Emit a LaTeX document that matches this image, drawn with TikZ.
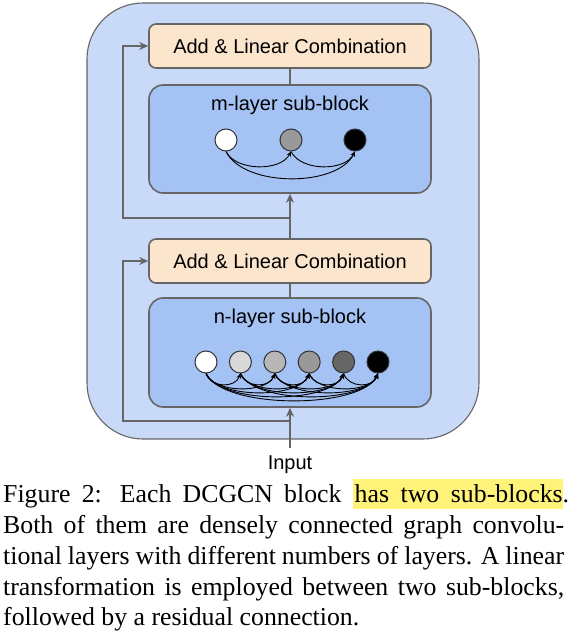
\documentclass[tikz,border=0pt]{standalone}
\usepackage{fontspec}
\setmainfont{Liberation Serif}
\newfontfamily\diagfont{Liberation Sans}
\usetikzlibrary{arrows.meta,calc}
\definecolor{outerblue}{HTML}{C9DAF8}
\definecolor{innerblue}{HTML}{A4C2F4}
\definecolor{addorange}{HTML}{FCE5CD}
\definecolor{edgegrey}{HTML}{666666}
\definecolor{hlyellow}{RGB}{255,243,122}
\definecolor{g1}{HTML}{D9D9D9}
\definecolor{g2}{HTML}{B7B7B7}
\definecolor{g3}{HTML}{999999}
\definecolor{g4}{HTML}{666666}
\newcommand\hlpart[1]{{\setlength{\fboxsep}{0pt}\colorbox{hlyellow}{\rule[-0.27em]{0pt}{1.16em}\hspace{2pt}\makebox[208pt][s]{#1}}}}
\begin{document}
\begin{tikzpicture}[x=1pt,y=-1pt,
  outerbox/.style={draw=edgegrey,line width=1.1pt,fill=outerblue,rounded corners=56pt},
  addbox/.style={draw=edgegrey,line width=1.6pt,fill=addorange,rounded corners=7pt,
    minimum width=282pt,minimum height=44pt,inner sep=0pt,font=\diagfont\fontsize{20}{24}\selectfont},
  subbox/.style={draw=edgegrey,line width=1.6pt,fill=innerblue,rounded corners=14pt,
    minimum width=282pt,inner sep=0pt},
  titletext/.style={font=\diagfont\fontsize{20}{24}\selectfont,inner sep=0pt},
  dotnode/.style={circle,draw=black!80,line width=1pt,minimum size=22pt,inner sep=0pt},
  conn/.style={draw=edgegrey,line width=2pt},
  connarrow/.style={conn,-{Stealth[length=9pt,width=8pt]}},
  arcline/.style={draw=black,line width=0.9pt,-{Stealth[length=5pt,width=4.5pt]}},
  captionline/.style={anchor=base west,inner sep=0pt,font=\fontsize{25.8}{30.8}\selectfont}
]
\useasboundingbox (0,0) rectangle (572,632);

% outer block
\draw[outerbox] (87,3) rectangle (479,439);

% top part
\node[addbox] (add1) at (290,46) {Add \& Linear Combination};
\node[subbox,minimum height=108pt] (mblk) at (290,139) {};
\node[titletext] (mtitle) at (290,105) {m-layer sub-block};
\node[dotnode,fill=white] (m1) at (226,140) {};
\node[dotnode,fill=g3] (m2) at (291,140) {};
\node[dotnode,fill=black] (m3) at (355,140) {};
\draw[arcline] (m1.south) .. controls +(10,20) and +(-10,20) .. (m2.south);
\draw[arcline] (m2.south) .. controls +(10,20) and +(-10,20) .. (m3.south);
\draw[arcline] (m1.south) .. controls +(18,36) and +(-18,36) .. (m3.south);

% bottom part
\node[addbox] (add2) at (290,261) {Add \& Linear Combination};
\node[subbox,minimum height=109pt] (nblk) at (290,352.5) {};
\node[titletext] (ntitle) at (290,318) {n-layer sub-block};
\node[dotnode,fill=white] (n1) at (206,362) {};
\node[dotnode,fill=g1] (n2) at (240.4,362) {};
\node[dotnode,fill=g2] (n3) at (274.8,362) {};
\node[dotnode,fill=g3] (n4) at (309.2,362) {};
\node[dotnode,fill=g4] (n5) at (343.6,362) {};
\node[dotnode,fill=black] (n6) at (378,362) {};
\foreach \i in {1,...,5}{
  \pgfmathtruncatemacro\s{\i+1}
  \foreach \j in {\s,...,6}{
    \pgfmathsetmacro\h{14.7+5.33*(\j-\i-1)}
    \pgfmathsetmacro\dx{5+3*(\j-\i-1)}
    \draw[arcline] (n\i.south) .. controls +(\dx,\h) and +(-\dx,\h) .. (n\j.south);
  }
}

% connectors
\draw[conn] (add1.south) -- (mblk.north);
\draw[conn] (add2.south) -- (nblk.north);
\draw[connarrow] (add2.north) -- (mblk.south);
\coordinate (split1) at (290,218);
\coordinate (corner1) at (123,218);
\draw[connarrow] (split1) -- (corner1) |- (add1.west);

\node[titletext,anchor=base,inner ysep=7.5pt] (input) at (290,469) {Input};
\draw[connarrow] (input.north) -- (nblk.south);
\coordinate (split2) at (290,421);
\coordinate (corner2) at (123,421);
\draw[connarrow] (split2) -- (corner2) |- (add2.west);

% caption
\node[captionline] (cap1) at (3,502) {\makebox[566pt][s]{Figure 2:  Each DCGCN block \hlpart{has two sub-blocks}.}};
\node[captionline] (cap2) at (3,533) {\makebox[561pt][s]{Both of them are densely connected graph convolu-}};
\node[captionline] (cap3) at (3,564) {\makebox[561pt][s]{tional layers with different numbers of layers. A linear}};
\node[captionline] (cap4) at (3,595) {\makebox[561pt][s]{transformation is employed between two sub-blocks,}};
\node[captionline] (cap5) at (3,625) {followed by a residual connection.};
\end{tikzpicture}
\end{document}
